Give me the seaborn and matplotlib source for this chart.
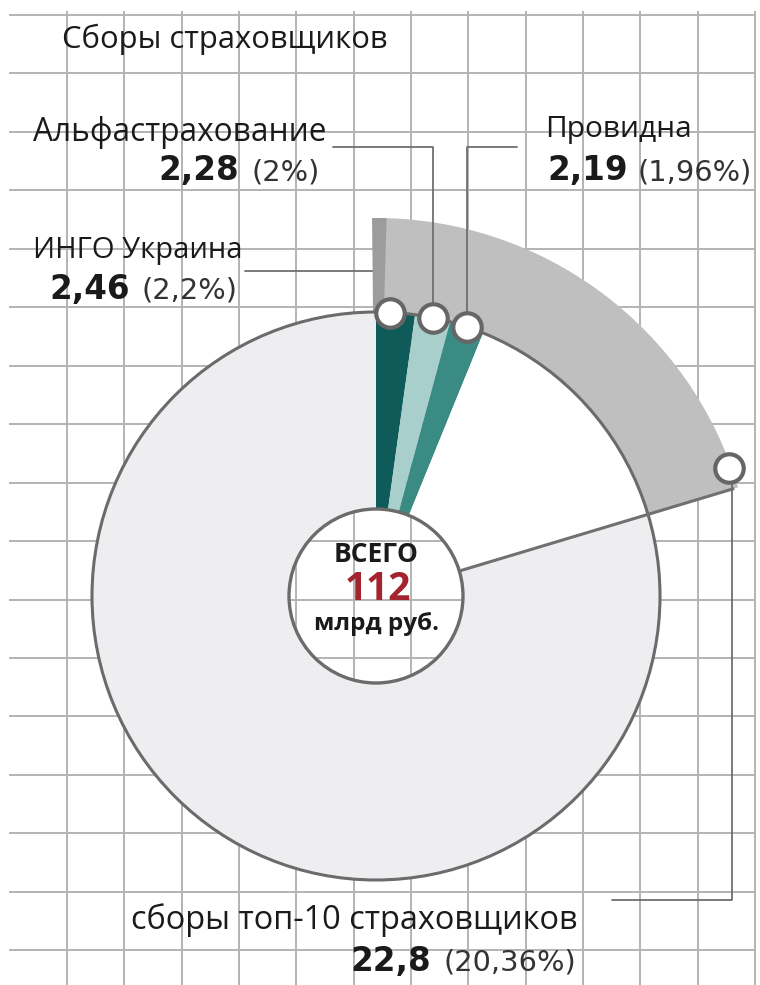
import numpy as np
import matplotlib.pyplot as plt
import seaborn as sns
from matplotlib.patches import Circle, Wedge

# data (bln rub and % of total)
names = ["ИНГО Украина", "Альфастрахование", "Провидна"]
amounts = ["2,46", "2,28", "2,19"]
shares = [2.2, 2.0, 1.96]
share_labels = ["(2,2%)", "(2%)", "(1,96%)"]
top10_amount = "22,8"
top10_share = 20.36
top10_label = "(20,36%)"
total = 112

teal = ["#0f5b59", "#a8cfcb", "#3a8b83"]
rest_white = "#ffffff"
others_grey = "#eeeef1"
band_grey = "#bfbfbf"
line_grey = "#6b6b6b"

sns.set_theme(style="white")
plt.rcParams["font.family"] = ["Open Sans", "DejaVu Sans"]

W, H = 760, 985
fig = plt.figure(figsize=(W / 100, H / 100), dpi=100)
ax = fig.add_axes([0, 0, 1, 1])


def Y(y_px):
    # picture pixel row -> data y (y axis points up)
    return H - y_px


# graph-paper background
grid_x = 67 + 57.33 * np.arange(13)
grid_y = 15 + 58.45 * np.arange(17)
ax.hlines(Y(grid_y), 9, 756, color="#b3b3b3", lw=1.4, zorder=0)
ax.vlines(grid_x, Y(985), Y(11), color="#b3b3b3", lw=1.4, zorder=0)

cx, cy = 376, Y(596)
r_out, r_in, r_band = 284, 87, 378

# outer band for top-10
ax.pie([top10_share, 100 - top10_share], colors=[band_grey, "none"],
       startangle=90, counterclock=False, radius=r_band, center=(cx, cy),
       wedgeprops=dict(width=r_band - r_out, linewidth=0), frame=True)
for w in ax.patches[-2:]:
    w.set_zorder(1)
# darker side face at the start of the band
ax.add_patch(Wedge((cx, cy), r_band, 88.4, 90.6, width=r_band - r_out,
                   color="#9c9c9c", lw=0, zorder=1.1))

# main donut
values = shares + [top10_share - sum(shares), 100 - top10_share]
ax.pie(values, colors=teal + [rest_white, others_grey],
       startangle=90, counterclock=False, radius=r_out, center=(cx, cy),
       wedgeprops=dict(width=r_out - r_in, linewidth=0), frame=True)
for w in ax.patches[-len(values):]:
    w.set_zorder(2)
ax.add_patch(Circle((cx, cy), r_out, fill=False, ec=line_grey, lw=2.2, zorder=3))
ax.add_patch(Circle((cx, cy), r_in, fill=False, ec=line_grey, lw=2.4, zorder=3))

# boundary line at the end of the top-10 share
th_end = np.deg2rad(90 - 3.6 * top10_share)
ax.plot([cx + r_in * np.cos(th_end), cx + (r_band - 4) * np.cos(th_end)],
        [cy + r_in * np.sin(th_end), cy + (r_band - 4) * np.sin(th_end)],
        color="#707070", lw=2.2, zorder=3, solid_capstyle="butt")

# marker positions
cum = np.cumsum([0] + shares[:-1])
mid = np.deg2rad(90 - 3.6 * (cum + np.array(shares) / 2))
mx = cx + r_out * np.cos(mid)
my = cy + r_out * np.sin(mid)
mx[0] -= 6
th_m = th_end + np.deg2rad(3.2)
bx = cx + (r_band - 3) * np.cos(th_m)
by = cy + (r_band - 3) * np.sin(th_m)

# leader lines
lc = "#6f6f6f"
ax.plot([245, mx[0], mx[0]], [Y(271), Y(271), my[0]], color=lc, lw=1.3, zorder=0.9)
ax.plot([333, mx[1], mx[1]], [Y(147), Y(147), my[1]], color=lc, lw=1.3, zorder=4)
ax.plot([517, mx[2], mx[2]], [Y(147), Y(147), my[2]], color=lc, lw=1.3, zorder=4)
ax.plot([bx + 3, bx + 3, 612], [by, Y(900), Y(900)], color=lc, lw=1.3, zorder=4)

sns.scatterplot(x=list(mx) + [bx], y=list(my) + [by], s=420, color="white",
                edgecolor="#666666", linewidth=3, zorder=5, ax=ax, legend=False)

# texts
tc = "#1a1a1a"
pc = "#333333"
num_font = dict(family="DejaVu Sans", fontsize=23.5, fontweight="bold", color=tc,
                ha="right", va="baseline")
pct_font = dict(family="DejaVu Sans", fontsize=20.8, color=pc, ha="left", va="baseline")

ax.text(62, Y(48), "Сборы страховщиков", fontsize=22.3, color=tc, va="baseline")

ax.text(326, Y(141), names[1], fontsize=22.8, color=tc, ha="right", va="baseline")
ax.text(239, Y(180), amounts[1], **num_font)
ax.text(251, Y(180), share_labels[1], **pct_font)

ax.text(33, Y(258), names[0], fontsize=21, color=tc, ha="left", va="baseline")
ax.text(130, Y(299), amounts[0], **num_font)
ax.text(141, Y(299), share_labels[0], **pct_font)

ax.text(545, Y(137), names[2], fontsize=21.5, color=tc, ha="left", va="baseline")
ax.text(628, Y(180), amounts[2], **num_font)
ax.text(638, Y(180), share_labels[2], **pct_font)

ax.text(578, Y(929), "сборы топ-10 страховщиков", fontsize=23.4, color=tc, ha="right", va="baseline")
ax.text(431, Y(971), top10_amount, **num_font)
ax.text(443, Y(971), top10_label, **pct_font)

ax.text(cx, Y(554), "ВСЕГО", fontsize=19, fontweight="bold", color=tc, ha="center", va="center", zorder=6)
ax.text(cx + 2, Y(590), str(total), fontsize=28, fontweight="bold", color="#a3232f", ha="center", va="center", zorder=6)
ax.text(cx, Y(624), "млрд руб.", fontsize=17.5, fontweight="bold", color=tc, ha="center", va="center", zorder=6)

ax.set_xlim(0, W)
ax.set_ylim(0, H)
ax.set_aspect("equal")
ax.axis("off")
fig.savefig("out.png", dpi=100, facecolor="white")
